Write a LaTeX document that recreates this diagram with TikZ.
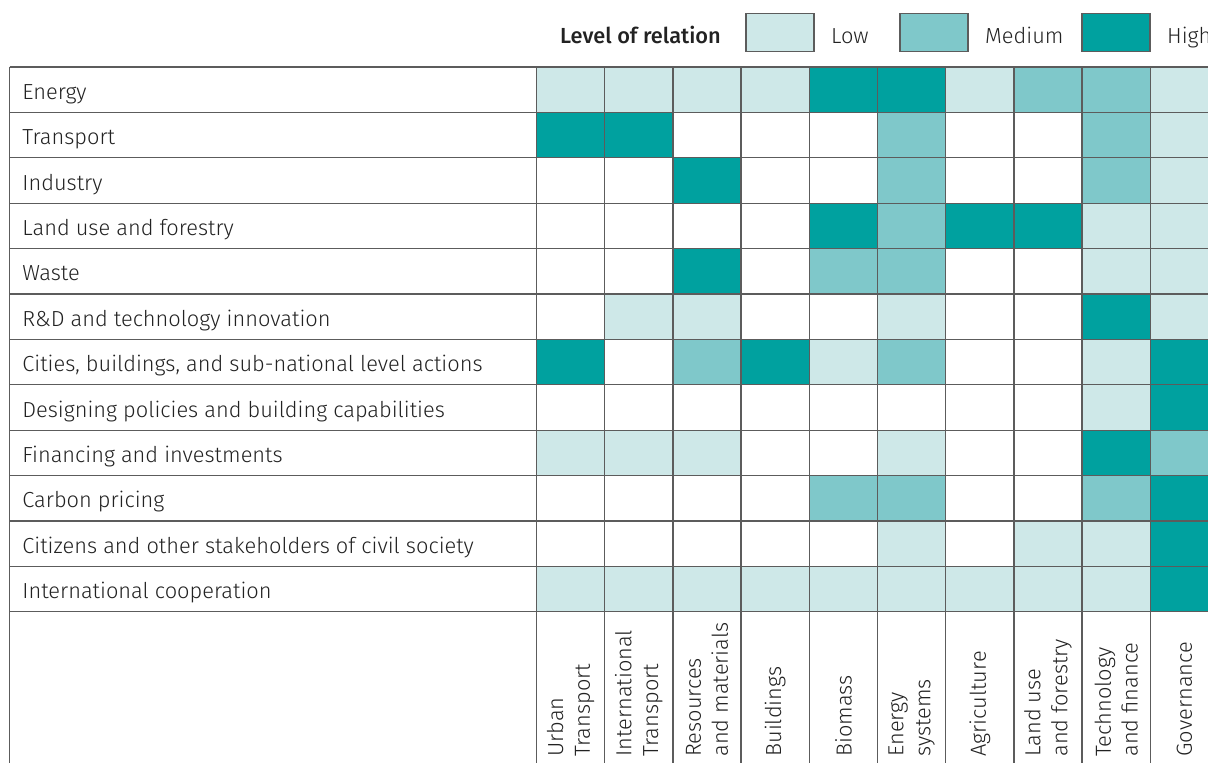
\documentclass[tikz,border=0pt]{standalone}
\usepackage{fontspec}
\setmainfont{Fira Sans}[UprightFont={* Light}, BoldFont={* Medium}]
\usepackage{tikz}
\usetikzlibrary{positioning}

\definecolor{lev0}{HTML}{FFFFFF}
\definecolor{lev1}{HTML}{CEE8E8}
\definecolor{lev2}{HTML}{7FC8CA}
\definecolor{lev3}{HTML}{00A19F}
\definecolor{gridgray}{HTML}{5C5C5C}
\definecolor{inkgray}{HTML}{222222}

\tikzset{
    gridline/.style={draw=gridgray, line width=0.65pt},
    legbox/.style={draw=gridgray, line width=0.75pt, minimum width=34pt, minimum height=19.2pt, inner sep=0pt},
    legtext/.style={inner sep=0pt, text height=7.5pt, text depth=0pt, yshift=-1.6pt, text=inkgray, font=\fontsize{10.9}{13}\selectfont},
    rowlabel/.style={anchor=base west, inner sep=0pt, text=inkgray, font=\fontsize{10.9}{13}\selectfont},
    collabel/.style={rotate=90, anchor=west, align=left, inner sep=0pt, text=inkgray, font=\fontsize{10.9}{13.4}\selectfont}
}

\begin{document}
\begin{tikzpicture}[x=0.5pt, y=-0.5pt]
    \useasboundingbox (0,0) rectangle (1208,763);
    \clip (0,0) rectangle (1208,763);
    \fill[white] (0,0) rectangle (1208,763);

    % cells: 0 none, 1 low, 2 medium, 3 high
    \foreach \vals [count=\r] in {
        {1,1,1,1,3,3,1,2,2,1},
        {3,3,0,0,0,2,0,0,2,1},
        {0,0,3,0,0,2,0,0,2,1},
        {0,0,0,0,3,2,3,3,1,1},
        {0,0,3,0,2,2,0,0,1,1},
        {0,1,1,0,0,1,0,0,3,1},
        {3,0,2,3,1,2,0,0,1,3},
        {0,0,0,0,0,0,0,0,1,3},
        {1,1,1,0,0,1,0,0,3,2},
        {0,0,0,0,2,2,0,0,2,3},
        {0,0,0,0,0,1,0,1,1,3},
        {1,1,1,1,1,1,1,1,1,3}} {
        \foreach \v [count=\c] in \vals {
            \fill[lev\v] (468.3+68.2*\c, 21.6+45.4*\r) rectangle ++(68.2,45.4);
        }
    }

    % grid
    \foreach \j in {0,...,12}
        \draw[gridline] (9.5, 67+45.4*\j) -- (1230, 67+45.4*\j);
    \draw[gridline] (9.5,67) -- (9.5,790);
    \foreach \i in {0,...,9}
        \draw[gridline] (536.5+68.2*\i, 67) -- (536.5+68.2*\i, 790);

    % row labels
    \foreach \t [count=\r] in {Energy, Transport, Industry, Land use and forestry, Waste,
        R\&D and technology innovation, {Cities, buildings, and sub-national level actions},
        Designing policies and building capabilities, Financing and investments,
        Carbon pricing, Citizens and other stakeholders of civil society,
        International cooperation}
        \node[rowlabel] (row\r) at (22, 54+45.4*\r) {\t};

    % column labels
    \foreach \t [count=\c] in {Urban\\Transport, International\\Transport,
        Resources\\and materials, Buildings, Biomass, Energy\\systems, Agriculture,
        Land use\\and forestry, Technology\\and finance, Governance}
        \node[collabel] (col\c) at (502.4+68.2*\c, 757) {\t};

    % legend
    \node[legbox, fill=lev1] (lowbox) at (780,32.5) {};
    \node[legbox, fill=lev2] (medbox) at (934,32.5) {};
    \node[legbox, fill=lev3] (highbox) at (1116,32.5) {};
    \node[legtext, left=12pt of lowbox] (legtitle) {\textbf{Level of relation}};
    \node[legtext, right=8pt of lowbox] (lowtext) {Low};
    \node[legtext, right=8pt of medbox] (medtext) {Medium};
    \node[legtext, right=8pt of highbox] (hightext) {High};
\end{tikzpicture}
\end{document}
